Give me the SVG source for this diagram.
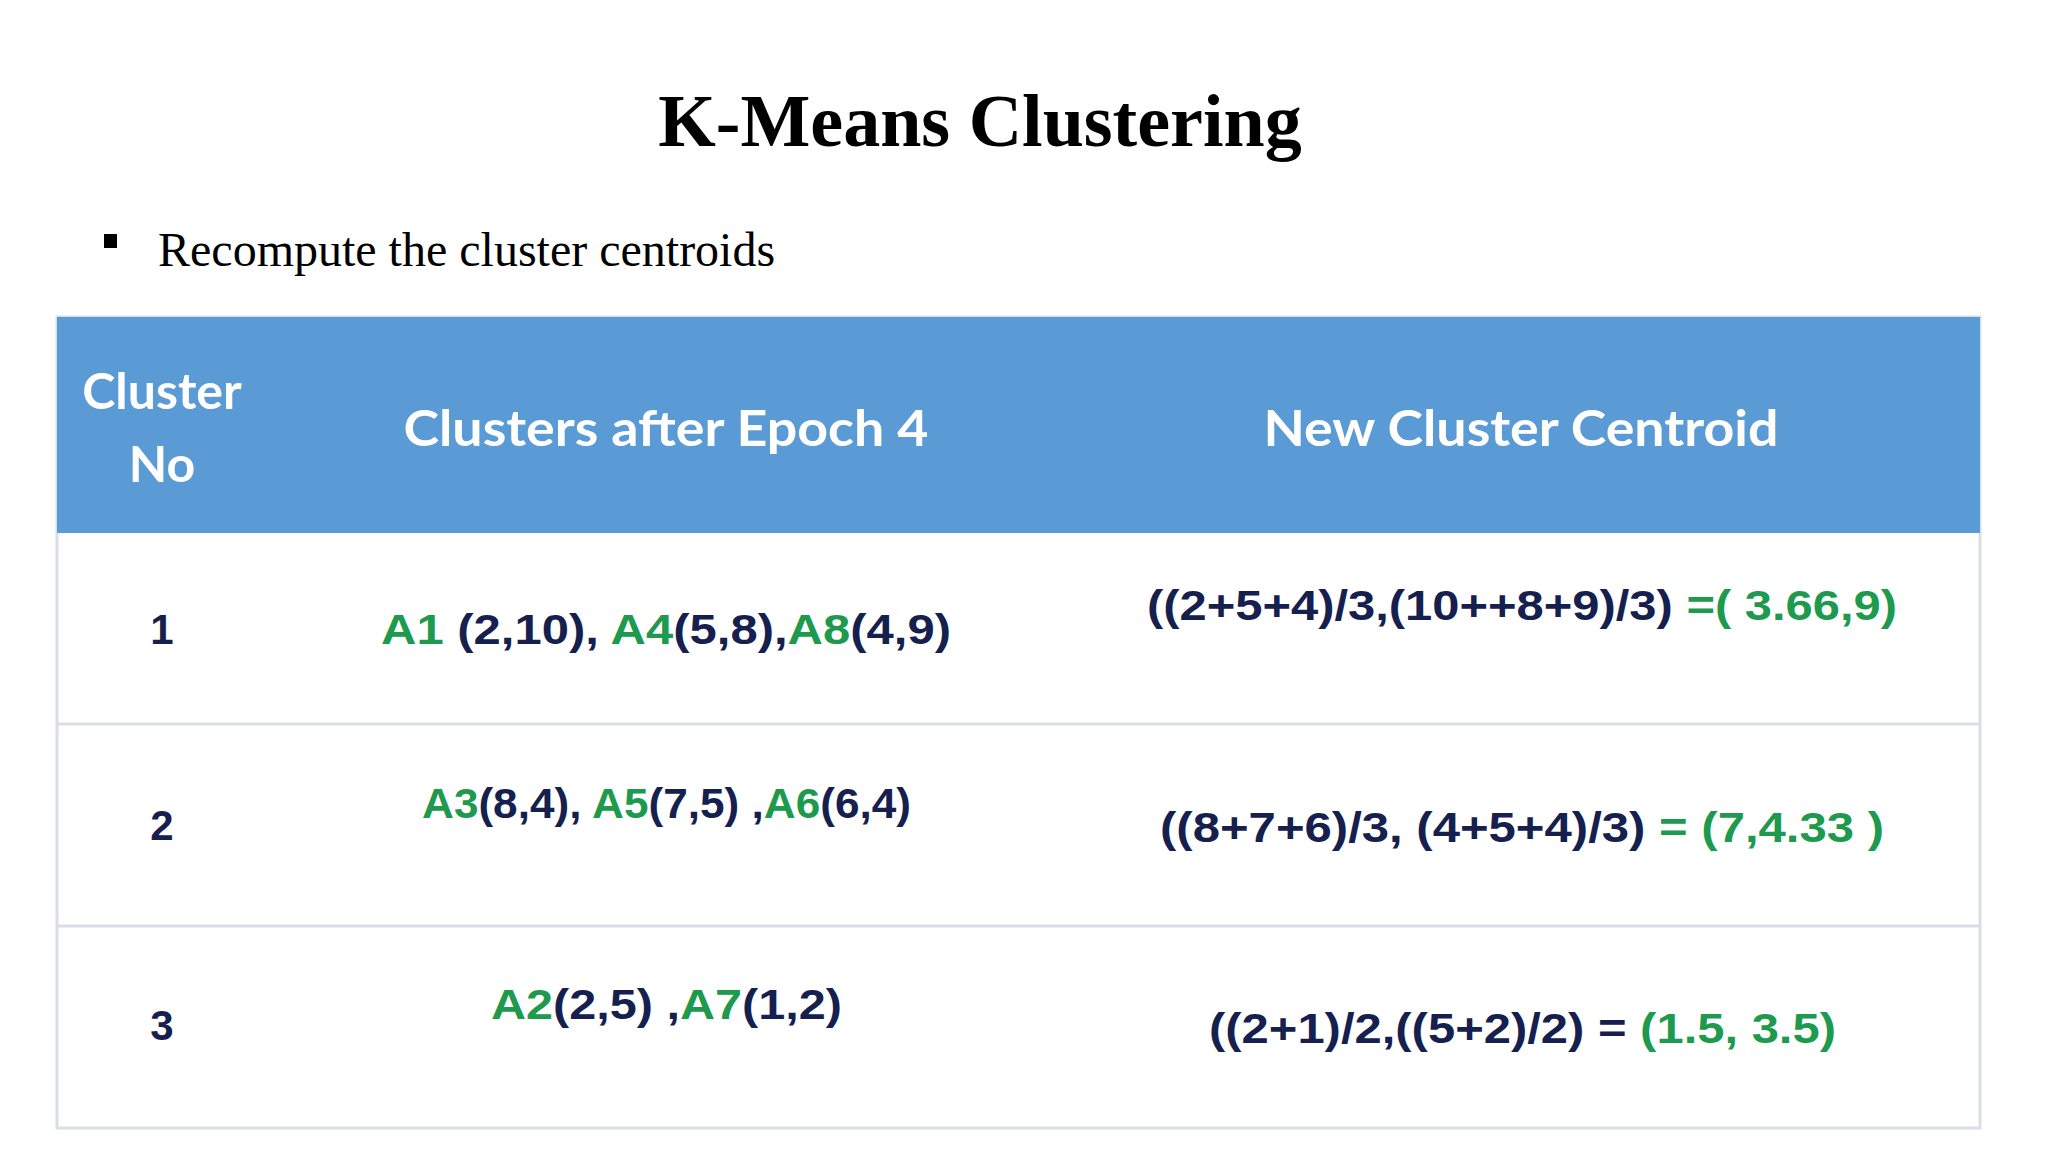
<svg xmlns="http://www.w3.org/2000/svg" width="2048" height="1152" viewBox="0 0 2048 1152">
<style>
.t{font-family:"Liberation Sans",Arial,sans-serif;font-weight:bold;font-size:42px;fill:#15204f}
.g{fill:#1d9a4e}
.h{font-family:Lato,"Liberation Sans",sans-serif;font-weight:bold;font-size:50px;fill:#fff}
.line{stroke:#d8dee6;stroke-width:3}
</style>
<rect width="2048" height="1152" fill="#fff"/>
<text x="980" y="146" text-anchor="middle" font-family="'Liberation Serif',serif" font-weight="bold" font-size="74">K-Means Clustering</text>
<rect x="104" y="234" width="13" height="14" fill="#000"/>
<text x="158" y="266" font-family="'Liberation Serif',serif" font-size="48">Recompute the cluster centroids</text>
<g id="table">
<rect x="57" y="317" width="1923" height="811" fill="#fff" stroke="#d8dee6" stroke-width="3"/>
<rect x="57" y="317" width="1923" height="216" fill="#5b9bd5"/>
<line class="line" x1="57" y1="724" x2="1980" y2="724"/>
<line class="line" x1="57" y1="926" x2="1980" y2="926"/>
</g>
<g id="header">
<text class="h" x="162" y="409" text-anchor="middle">Cluster</text>
<text class="h" x="162" y="482" text-anchor="middle">No</text>
<text class="h" x="666" y="446" text-anchor="middle" textLength="525" lengthAdjust="spacingAndGlyphs">Clusters after Epoch 4</text>
<text class="h" x="1521" y="446" text-anchor="middle" textLength="515" lengthAdjust="spacingAndGlyphs">New Cluster Centroid</text>
</g>
<g id="row1">
<text class="t" x="162" y="644" text-anchor="middle">1</text>
<text class="t" x="381" y="644" textLength="570" lengthAdjust="spacingAndGlyphs"><tspan class="g">A1</tspan> (2,10), <tspan class="g">A4</tspan>(5,8),<tspan class="g">A8</tspan>(4,9)</text>
<text class="t" x="1147" y="620" textLength="750" lengthAdjust="spacingAndGlyphs">((2+5+4)/3,(10++8+9)/3) <tspan class="g">=( 3.66,9)</tspan></text>
</g>
<g id="row2">
<text class="t" x="162" y="840" text-anchor="middle">2</text>
<text class="t" x="422" y="818" textLength="489" lengthAdjust="spacingAndGlyphs"><tspan class="g">A3</tspan>(8,4), <tspan class="g">A5</tspan>(7,5) ,<tspan class="g">A6</tspan>(6,4)</text>
<text class="t" x="1160" y="842" textLength="724" lengthAdjust="spacingAndGlyphs">((8+7+6)/3, (4+5+4)/3) <tspan class="g">= (7,4.33 )</tspan></text>
</g>
<g id="row3">
<text class="t" x="162" y="1040" text-anchor="middle">3</text>
<text class="t" x="491" y="1019" textLength="351" lengthAdjust="spacingAndGlyphs"><tspan class="g">A2</tspan>(2,5) ,<tspan class="g">A7</tspan>(1,2)</text>
<text class="t" x="1209" y="1043" textLength="627" lengthAdjust="spacingAndGlyphs">((2+1)/2,((5+2)/2) = <tspan class="g">(1.5, 3.5)</tspan></text>
</g>
<g id="connectors"/>
</svg>
